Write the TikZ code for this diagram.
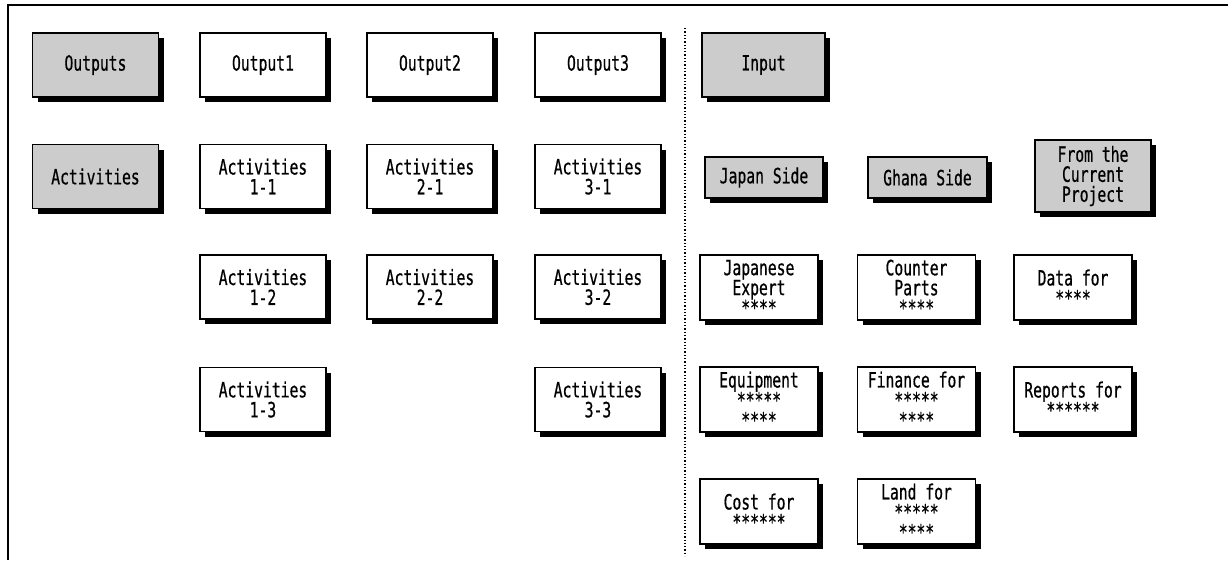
\documentclass[tikz,border=0pt]{standalone}
\usepackage{fontspec}
\newfontfamily\boxfont[FakeStretch=0.70,FakeBold=0.6]{DejaVu Sans Mono}
\usetikzlibrary{shadows}
\tikzset{
  box/.style={draw, line width=1.5pt, fill=white,
    drop shadow={shadow xshift=5pt, shadow yshift=-5pt, fill=black, opacity=1},
    minimum width=126pt, minimum height=64pt, inner sep=0pt, align=center,
    font=\boxfont\fontsize{21}{20}\selectfont},
  gbox/.style={box, fill=gray!40},
  rbox/.style={box, minimum width=118pt, minimum height=65pt},
  frame/.style={line width=1.6pt},
  divider/.style={line width=1.3pt, dotted}
}
\begin{document}
\begin{tikzpicture}[x=1pt,y=-1pt]
\useasboundingbox (0,0) rectangle (1228,560);
% frame
\coordinate (ftl) at (8,5);
\coordinate (ftr) at (1228,5);
\coordinate (fbl) at (8,560);
\draw[frame] (fbl) -- (ftl) -- (ftr);
% divider
\coordinate (dtop) at (685,28);
\coordinate (dbot) at (685,556);
\draw[divider] (dtop) -- (dbot);
% left side
\node[gbox] (outputs) at (95.5,65) {Outputs};
\node[box] (out1) at (263,65) {Output1};
\node[box] (out2) at (430,65) {Output2};
\node[box] (out3) at (598,65) {Output3};
\node[gbox] (acts) at (95.5,176.5) {Activities};
\node[box] (a11) at (263,176.5) {Activities\\1-1};
\node[box] (a21) at (430,176.5) {Activities\\2-1};
\node[box] (a31) at (598,176.5) {Activities\\3-1};
\node[box] (a12) at (263,287) {Activities\\1-2};
\node[box] (a22) at (430,287) {Activities\\2-2};
\node[box] (a32) at (598,287) {Activities\\3-2};
\node[box] (a13) at (263,399.5) {Activities\\1-3};
\node[box] (a33) at (598,399.5) {Activities\\3-3};
% right side
\node[gbox, minimum width=123pt] (input) at (763.5,65) {Input};
\node[gbox, minimum width=118pt, minimum height=41pt] (japan) at (764,177.5) {Japan Side};
\node[gbox, minimum width=119pt, minimum height=41pt] (ghana) at (927.5,177.5) {Ghana Side};
\node[gbox, minimum width=116pt, minimum height=72pt] (current) at (1093,176) {From the\\Current\\Project};
\node[rbox] (jexp) at (759,287.5) {Japanese\\Expert\\****};
\node[rbox] (cparts) at (916.5,287.5) {Counter\\Parts\\****};
\node[rbox] (data) at (1073,287.5) {Data for\\****};
\node[rbox] (equip) at (759,399.5) {Equipment\\*****\\****};
\node[rbox] (fin) at (916.5,399.5) {Finance for\\*****\\****};
\node[rbox] (rep) at (1073,399.5) {Reports for\\******};
\node[rbox] (cost) at (759,511.5) {Cost for\\******};
\node[rbox] (land) at (916.5,511.5) {Land for\\*****\\****};
\end{tikzpicture}
\end{document}
